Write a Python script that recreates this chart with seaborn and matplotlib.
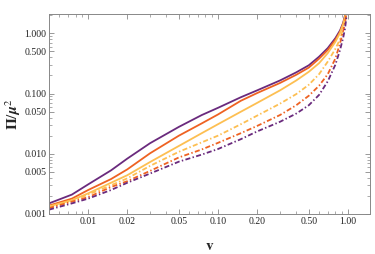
import numpy as np
import pandas as pd
import matplotlib
matplotlib.use('Agg')
import matplotlib.pyplot as plt
import matplotlib.ticker as mticker
import seaborn as sns

# values (log-log)
v = [0.005, 0.0075, 0.01, 0.015, 0.02, 0.03, 0.05, 0.075, 0.1, 0.15, 0.2, 0.3,
     0.4, 0.5, 0.6, 0.7, 0.8, 0.87, 0.92, 0.95, 0.97, 0.985, 0.995]

purple_solid = [0.0015, 0.0021, 0.0031, 0.0053, 0.0083, 0.015, 0.028, 0.044, 0.058, 0.087,
                0.113, 0.165, 0.225, 0.295, 0.41, 0.57, 0.83, 1.12, 1.5, 2.0, 2.6, 3.5, 5]
orange_solid = [0.00138, 0.0018, 0.0025, 0.0038, 0.0055, 0.0102, 0.02, 0.032, 0.045, 0.076,
                0.102, 0.15, 0.205, 0.27, 0.38, 0.53, 0.78, 1.06, 1.45, 1.9, 2.5, 3.4, 5]
yellow_solid = [0.00134, 0.0017, 0.0022, 0.0033, 0.0044, 0.0073, 0.0135, 0.022, 0.031, 0.05,
                0.07, 0.113, 0.165, 0.23, 0.32, 0.47, 0.72, 1.02, 1.42, 1.85, 2.4, 3.3, 5]
yellow_dash = [0.0013, 0.00165, 0.0021, 0.003, 0.0039, 0.0063, 0.0108, 0.0155, 0.02, 0.031,
               0.043, 0.068, 0.098, 0.14, 0.21, 0.34, 0.55, 0.8, 1.2, 1.6, 2.1, 3.0, 5]
orange_dash = [0.00125, 0.0016, 0.0019, 0.0028, 0.0035, 0.0052, 0.0087, 0.0118, 0.0152, 0.022,
               0.029, 0.044, 0.064, 0.092, 0.135, 0.21, 0.38, 0.68, 1.1, 1.5, 2.0, 2.8, 5]
purple_dash = [0.00118, 0.0015, 0.0018, 0.0025, 0.0033, 0.0047, 0.0074, 0.0097, 0.012, 0.0175,
               0.0235, 0.034, 0.0465, 0.064, 0.095, 0.16, 0.3, 0.53, 0.85, 1.2, 1.7, 2.5, 5]

series_names = ['ps', 'os', 'ys', 'yd', 'od', 'pd']
series_vals = [purple_solid, orange_solid, yellow_solid, yellow_dash, orange_dash, purple_dash]
x_ticks = [0.01, 0.02, 0.05, 0.10, 0.20, 0.50, 1.00]
y_ticks = [0.001, 0.005, 0.010, 0.050, 0.100, 0.500, 1.000]

df = pd.DataFrame({
    'v': np.tile(v, len(series_names)),
    'P': np.concatenate(series_vals),
    'curve': np.repeat(series_names, len(v)),
})

purple = '#6a2a7d'
orange = '#ee6222'
yellow = '#fdbf52'
palette = {'ps': purple, 'os': orange, 'ys': yellow, 'yd': yellow, 'od': orange, 'pd': purple}
dashdot = (2.8, 1.3, 0.8, 1.3)
dashes = {'ps': '', 'os': '', 'ys': '', 'yd': dashdot, 'od': dashdot, 'pd': dashdot}

sns.set_theme(style='ticks')
plt.rcParams['font.family'] = ['Liberation Serif', 'DejaVu Serif']
plt.rcParams['mathtext.fontset'] = 'stix'

fig = plt.figure(figsize=(3.75, 2.54), dpi=100)
ax = fig.add_axes([0.1307, 0.1575, 0.856, 0.7875])

sns.lineplot(data=df, x='v', y='P', hue='curve', style='curve', palette=palette,
             dashes=dashes, linewidth=1.3, legend=False, ax=ax, sort=False)

ax.set_xscale('log')
ax.set_yscale('log')
ax.set_xlim(0.005, 1.48)
ax.set_ylim(0.001, 2.1)

ax.xaxis.set_major_locator(mticker.FixedLocator(x_ticks))
ax.xaxis.set_major_formatter(mticker.FixedFormatter([f'{t:.2f}' for t in x_ticks]))
ax.yaxis.set_major_locator(mticker.FixedLocator(y_ticks))
ax.yaxis.set_major_formatter(mticker.FixedFormatter([f'{t:.3f}' for t in y_ticks]))
ax.xaxis.set_minor_locator(mticker.LogLocator(base=10, subs=np.arange(1, 10)))
ax.yaxis.set_minor_locator(mticker.LogLocator(base=10, subs=np.arange(1, 10)))
ax.xaxis.set_minor_formatter(mticker.NullFormatter())
ax.yaxis.set_minor_formatter(mticker.NullFormatter())

ax.tick_params(which='both', direction='in', top=True, right=True, color='#888888',
               labelsize=7, labelcolor='#222222', pad=2)
ax.tick_params(which='major', length=3.5, width=0.6)
ax.tick_params(which='minor', length=2, width=0.5)
for s in ax.spines.values():
    s.set_color('#888888')
    s.set_linewidth(0.7)

ax.set_xlabel(r'$\mathbf{v}$', fontsize=11, labelpad=10)
ax.set_ylabel(r'$\mathbf{\Pi}/\boldsymbol{\mu}^{2}$', fontsize=11, labelpad=1)

fig.savefig('out.png', dpi=100)
